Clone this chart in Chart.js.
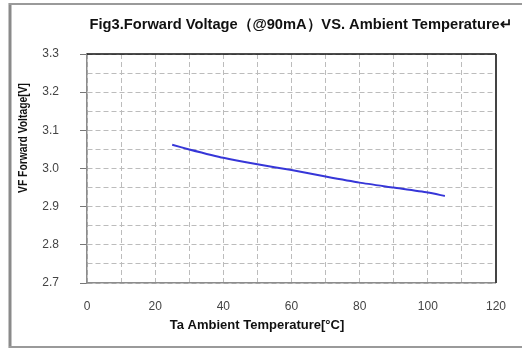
<!DOCTYPE html>
<html>
<head>
<meta charset="utf-8">
<script src="https://cdn.jsdelivr.net/npm/chart.js@4/dist/chart.umd.min.js"></script>
<style>
html,body{margin:0;padding:0;background:#fff;}
#wrap{width:522px;height:349px;position:relative;}
</style>
</head>
<body>
<div id="wrap"><canvas id="c" width="522" height="349"></canvas></div>
<script>
const chartTitle = "Fig3.Forward Voltage\uFF08@90mA\uFF09VS. Ambient Temperature\u21B5";
const xAxisTitle = "Ta Ambient Temperature[\u00B0C]";
const yAxisTitle = "VF Forward Voltage[V]";
const temperatures = [25, 30, 40, 50, 60, 70, 80, 90, 100, 105];
const forwardVoltage = [3.062, 3.050, 3.028, 3.011, 2.996, 2.979, 2.963, 2.950, 2.937, 2.928];
const xTickValues = [0, 20, 40, 60, 80, 100, 120];
const yTickValues = [2.7, 2.8, 2.9, 3.0, 3.1, 3.2, 3.3];

const isMajorY = v => yTickValues.some(t => Math.abs(t - v) < 1e-6);
const isMajorX = v => xTickValues.some(t => Math.abs(t - v) < 1e-6);

const decorPlugin = {
  id: 'decor',
  beforeDraw(chart) {
    const ctx = chart.ctx;
    ctx.save();
    ctx.fillStyle = '#fff';
    ctx.fillRect(0, 0, chart.width, chart.height);
    ctx.restore();
  },
  afterDraw(chart) {
    const ctx = chart.ctx;
    const a = chart.chartArea;
    ctx.save();
    // outer frame
    ctx.strokeStyle = '#8a8a8a';
    ctx.lineWidth = 3;
    ctx.beginPath(); ctx.moveTo(10, 3); ctx.lineTo(10, 348); ctx.stroke();
    ctx.lineWidth = 2;
    ctx.strokeStyle = '#9a9a9a';
    ctx.beginPath(); ctx.moveTo(9, 4); ctx.lineTo(522, 4); ctx.stroke();
    ctx.beginPath(); ctx.moveTo(9, 347); ctx.lineTo(522, 347); ctx.stroke();
    // plot frame top/right
    ctx.strokeStyle = '#111';
    ctx.lineWidth = 1.5;
    ctx.beginPath(); ctx.moveTo(a.left, a.top); ctx.lineTo(a.right, a.top); ctx.stroke();
    ctx.strokeStyle = '#444';
    ctx.lineWidth = 2;
    ctx.beginPath(); ctx.moveTo(a.right, a.top); ctx.lineTo(a.right, a.bottom); ctx.stroke();
    // titles
    ctx.fillStyle = '#111';
    ctx.textAlign = 'center';
    ctx.textBaseline = 'middle';
    ctx.font = 'bold 15px "Liberation Sans Narrow", "Liberation Sans", Arial, sans-serif';
    ctx.fillText(chartTitle, 301, 25, 423);
    ctx.font = 'bold 13px "Liberation Sans", Arial, sans-serif';
    ctx.fillText(xAxisTitle, 257, 325, 180);
    ctx.translate(24, 138);
    ctx.rotate(-Math.PI / 2);
    ctx.font = 'bold 12px "Liberation Sans", Arial, sans-serif';
    ctx.fillText(yAxisTitle, 0, 0, 110);
    ctx.restore();
  }
};

new Chart(document.getElementById('c'), {
  type: 'line',
  data: {
    datasets: [{
      data: temperatures.map((t, i) => ({x: t, y: forwardVoltage[i]})),
      borderColor: '#3636d8',
      borderWidth: 2,
      pointRadius: 0,
      tension: 0.2,
      fill: false
    }]
  },
  options: {
    responsive: false,
    animation: false,
    devicePixelRatio: 1,
    layout: {padding: {left: 0, top: 54, right: 20, bottom: 0}},
    plugins: {legend: {display: false}, title: {display: false}, tooltip: {enabled: false}},
    scales: {
      x: {
        type: 'linear',
        min: 0, max: 120,
        ticks: {
          stepSize: 10,
          padding: 16,
          color: '#444',
          font: {family: '"Liberation Sans", Arial, sans-serif', size: 12},
          maxRotation: 0,
          autoSkip: false,
          callback: v => isMajorX(v) ? String(v) : ''
        },
        grid: {color: '#bcbcbc', lineWidth: 1, drawTicks: false},
        border: {display: true, color: '#8c8c8c', width: 1.5, dash: [5, 3]},
        afterFit: s => { s.height = 66; }
      },
      y: {
        type: 'linear',
        min: 2.7, max: 3.3,
        ticks: {
          stepSize: 0.05,
          padding: 21,
          color: '#444',
          font: {family: '"Liberation Sans", Arial, sans-serif', size: 12},
          autoSkip: false,
          callback: v => isMajorY(v) ? v.toFixed(1) : ''
        },
        grid: {
          color: '#bcbcbc', lineWidth: 1, drawTicks: true, tickLength: 7,
          tickColor: c => (c.tick && isMajorY(c.tick.value)) ? '#777' : 'rgba(0,0,0,0)',
          tickBorderDash: []
        },
        border: {display: true, color: '#8c8c8c', width: 1.5, dash: [5, 3]},
        afterFit: s => { s.width = 87; }
      }
    }
  },
  plugins: [decorPlugin]
});
</script>
</body>
</html>
